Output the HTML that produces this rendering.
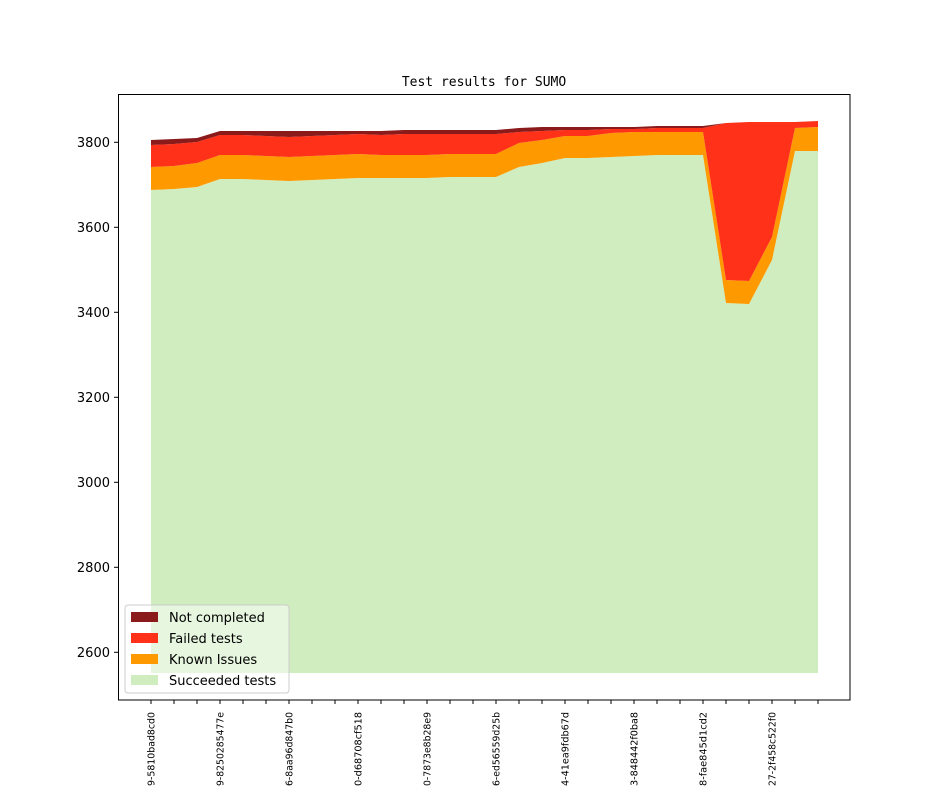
<!DOCTYPE html>
<html><head><meta charset="utf-8"><style>
html,body{margin:0;background:#fff;width:944px;height:787px;overflow:hidden;}
svg{display:block;overflow:hidden;font-family:"DejaVu Sans","Liberation Sans",sans-serif;}
</style></head><body>
<svg id="s" width="944" height="787" viewBox="0 0 944 787" xmlns="http://www.w3.org/2000/svg">
<rect width="944" height="787" fill="#fff"/>
<g id="areas"></g>
<rect x="118.5" y="94.5" width="731.5" height="605.5" fill="none" stroke="#000" stroke-width="1"/>
<text x="484" y="86" text-anchor="middle" font-family="DejaVu Sans Mono,Liberation Mono,monospace" font-size="13">Test results for SUMO</text>
<g id="yt" font-size="13" text-anchor="end"></g>
<g id="xt" font-size="9.7"></g>
<g>
<rect x="125" y="605" width="164" height="88" rx="3" fill="#fff" fill-opacity="0.5" stroke="#ccc"/>
<rect x="131" y="612" width="27" height="10" fill="#8b1a1a"/>
<rect x="131" y="633" width="27" height="10" fill="#ff3219"/>
<rect x="131" y="654" width="27" height="10" fill="#ff9900"/>
<rect x="131" y="675" width="27" height="10" fill="#cfedbe"/>
<text x="169" y="622" font-size="13">Not completed</text>
<text x="169" y="643" font-size="13">Failed tests</text>
<text x="169" y="664" font-size="13">Known Issues</text>
<text x="169" y="685" font-size="13">Succeeded tests</text>
</g>
</svg>
<script>
var X=[];for(var i=0;i<30;i++)X.push(151+23*i);
var G=[190,189,187,179,179,180,181,180,179,178,178,178,178,177,177,177,177,167,163,158,158,157,156,155,155,155,303,304,260,151,151];
var O=[167,166,163,155,155,156,157,156,155,154,155,155,155,154,154,154,154,143,140,136,136,133,132,132,132,132,280,281,237,128,127];
var R=[145,144,142,135,135,136,137,136,135,134,135,134,134,134,134,134,134,132,131,130,130,129,129,128,128,128,123,122,122,122,121];
var D=[140,139,138,131,131,131,131,131,131,131,131,130,130,130,130,130,129,128,127,127,127,127,127,126,126,126,123,122,122,122,121];
[G,O,R,D].forEach(function(a){a.splice(16,1);});
function band(top,bot,col){
 var p=[];for(var i=0;i<30;i++)p.push(X[i]+","+top[i]);
 for(var i=29;i>=0;i--)p.push(X[i]+","+(bot?bot[i]:673));
 return '<polygon points="'+p.join(" ")+'" fill="'+col+'"/>';
}
document.getElementById("areas").innerHTML=band(G,null,"#cfedbe")+band(O,G,"#ff9900")+band(R,O,"#ff3219")+band(D,R,"#8b1a1a");
var yt="";[2600,2800,3000,3200,3400,3600,3800].forEach(function(v){var y=142.3+(3800-v)*0.425;
 yt+='<line x1="114" y1="'+y+'" x2="118" y2="'+y+'" stroke="#000"/><text x="110" y="'+(y+4.5)+'">'+v+'</text>';});
document.getElementById("yt").innerHTML=yt;
var L=["9-5810bad8cd0","9-8250285477e","6-8aa96d847b0","0-d68708cf518","0-7873e8b28e9","6-ed56559d25b","4-41ea9fdb67d","3-848442f0ba8","8-fae845d1cd2","27-2f458c522f0"];
var xt="";for(var i=0;i<30;i++){xt+='<line x1="'+X[i]+'" y1="700" x2="'+X[i]+'" y2="704" stroke="#000"/>';
 if(i%3==0){var t=L[i/3];xt+='<text transform="translate('+(X[i]+3.5)+',712) rotate(-90)" text-anchor="end" textLength="74" lengthAdjust="spacingAndGlyphs">'+t+'</text>';}}
document.getElementById("xt").innerHTML=xt;
</script>
</body></html>
